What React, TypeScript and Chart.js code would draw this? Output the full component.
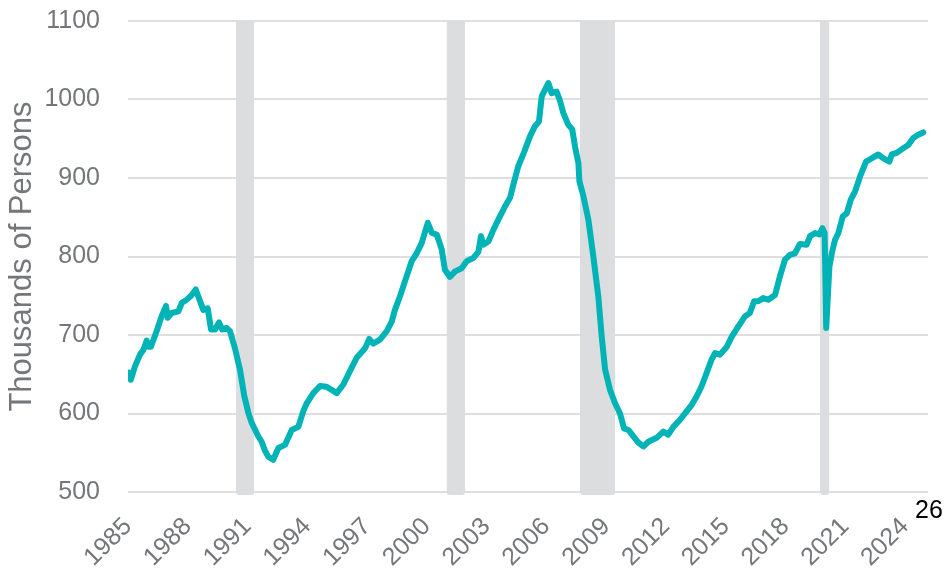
import React, { useEffect, useRef } from 'react';
import { Chart, registerables } from 'chart.js';

Chart.register(...registerables);

// Decimal-year positions of readings taken along the line
const years = [
  1985.05, 1985.14, 1985.35, 1985.6, 1985.77, 1985.94, 1986.02, 1986.15, 1986.44, 1986.69,
  1986.91, 1986.99, 1987.19, 1987.53, 1987.7, 1987.95, 1988.2, 1988.4, 1988.56, 1988.78,
  1989.0, 1989.17, 1989.37, 1989.57, 1989.73, 1989.95, 1990.12, 1990.37, 1990.62, 1990.84,
  1991.04, 1991.21, 1991.54, 1991.71, 1991.87, 1992.04, 1992.29, 1992.55, 1992.88, 1993.22,
  1993.55, 1993.8, 1993.97, 1994.3, 1994.64, 1994.97, 1995.48, 1995.81, 1996.14, 1996.48,
  1996.9, 1997.11, 1997.31, 1997.65, 1997.99, 1998.24, 1998.4, 1998.65, 1998.99, 1999.24,
  1999.49, 1999.74, 2000.05, 2000.25, 2000.5, 2000.75, 2000.91, 2001.16, 2001.42, 2001.75,
  2002.0, 2002.33, 2002.59, 2002.72, 2002.84, 2003.09, 2003.34, 2003.59, 2003.93, 2004.18,
  2004.34, 2004.59, 2004.84, 2005.18, 2005.43, 2005.63, 2005.77, 2005.85, 2006.1, 2006.27,
  2006.52, 2006.69, 2006.85, 2007.1, 2007.3, 2007.44, 2007.61, 2007.66, 2007.86, 2008.11,
  2008.36, 2008.61, 2008.78, 2008.95, 2009.2, 2009.45, 2009.7, 2009.9, 2010.12, 2010.37,
  2010.62, 2010.87, 2011.12, 2011.54, 2011.87, 2012.12, 2012.38, 2012.71, 2013.05, 2013.3,
  2013.55, 2013.8, 2014.05, 2014.3, 2014.47, 2014.72, 2015.06, 2015.31, 2015.64, 2015.98,
  2016.22, 2016.43, 2016.64, 2016.89, 2017.14, 2017.48, 2017.73, 2017.98, 2018.23, 2018.48,
  2018.73, 2019.07, 2019.24, 2019.49, 2019.71, 2019.86, 2019.97, 2020.05, 2020.21, 2020.33,
  2020.49, 2020.66, 2020.88, 2021.08, 2021.28, 2021.5, 2021.75, 2022.05, 2022.33, 2022.66,
  2022.92, 2023.22, 2023.34, 2023.59, 2023.92, 2024.17, 2024.42, 2024.67, 2024.92,
];

// Thousands of persons
const persons = [
  652, 643, 660, 675, 681, 693, 685, 685, 705, 724,
  737, 722, 728, 730, 741, 745, 751, 758, 747, 732,
  734, 707, 707, 716, 707, 709, 705, 683, 656, 622,
  601, 588, 571, 564, 553, 545, 541, 556, 560, 579,
  583, 603, 613, 626, 635, 634, 626, 637, 654, 671,
  683, 695, 689, 694, 705, 717, 732, 749, 775, 794,
  804, 817, 843, 830, 828, 809, 783, 774, 781, 785,
  794, 798, 806, 826, 815, 819, 834, 847, 864, 875,
  891, 915, 930, 953, 966, 972, 1004, 1008, 1021, 1008,
  1010, 998, 983, 968, 962, 940, 919, 896, 877, 847,
  800, 749, 698, 656, 630, 613, 600, 581, 579, 571,
  563, 558, 564, 569, 577, 573, 583, 592, 603, 611,
  622, 635, 652, 669, 677, 675, 685, 698, 711, 724,
  728, 743, 743, 747, 745, 751, 775, 796, 802, 804,
  816, 815, 826, 830, 828, 836, 830, 709, 787, 804,
  821, 830, 851, 855, 872, 883, 902, 921, 925, 930,
  925, 921, 930, 932, 938, 942, 951, 955, 958,
];

const tickYears = [1985, 1988, 1991, 1994, 1997, 2000, 2003, 2006, 2009, 2012, 2015, 2018, 2021, 2024];
const yMin = 500;
const yMax = 1100;
const yStep = 100;
const xMin = 1985;
const xMax = 2025.16;

const recessionStarts = [1990.42, 2001.0, 2007.69, 2019.74];
const recessionEnds = [1991.33, 2001.92, 2009.45, 2020.2];

const yTitle = 'Thousands of Persons';
const cornerLabel = '26';

const FONT = "'Liberation Sans', Arial, Helvetica, sans-serif";
const GRAY = '#747679';
const TEAL = '#00b3b6';

const recessionPlugin = {
  id: 'recessions',
  beforeDatasetsDraw(chart: any) {
    const { ctx, chartArea, scales } = chart;
    const xs = scales.x;
    ctx.save();
    ctx.fillStyle = '#dcdddf';
    for (let i = 0; i < recessionStarts.length; i++) {
      const x0 = xs.getPixelForValue(recessionStarts[i]);
      const x1 = xs.getPixelForValue(recessionEnds[i]);
      const top = chartArea.top;
      const bottom = chartArea.bottom + 3;
      ctx.beginPath();
      if (ctx.roundRect) {
        ctx.roundRect(x0, top, x1 - x0, bottom - top, [0, 0, 3, 3]);
      } else {
        ctx.rect(x0, top, x1 - x0, bottom - top);
      }
      ctx.fill();
    }
    ctx.restore();
  },
  afterDraw(chart: any) {
    const { ctx, chartArea } = chart;
    ctx.save();
    ctx.fillStyle = '#000000';
    ctx.font = `25px ${FONT}`;
    ctx.textAlign = 'left';
    ctx.textBaseline = 'alphabetic';
    ctx.fillText(cornerLabel, chartArea.right - 13, chartArea.bottom + 26);
    ctx.restore();
  },
};

export default function App() {
  const ref = useRef<HTMLCanvasElement | null>(null);

  useEffect(() => {
    document.body.style.margin = '0';
    const canvas = ref.current;
    if (!canvas) return;
    const data = years.map((x, i) => ({ x, y: persons[i] }));
    const chart = new Chart(canvas, {
      type: 'line',
      data: {
        datasets: [
          {
            data,
            borderColor: TEAL,
            borderWidth: 6,
            pointRadius: 0,
            tension: 0,
            borderJoinStyle: 'round',
            borderCapStyle: 'round',
            fill: false,
          },
        ],
      },
      options: {
        animation: false,
        responsive: false,
        maintainAspectRatio: false,
        layout: { padding: { top: 21, right: 17, left: 0, bottom: 0 } },
        plugins: {
          legend: { display: false },
          tooltip: { enabled: false },
        },
        scales: {
          x: {
            type: 'linear',
            min: xMin,
            max: xMax,
            afterBuildTicks: (scale: any) => {
              scale.ticks = tickYears.map((v) => ({ value: v }));
            },
            afterFit: (scale: any) => {
              scale.height = 83;
              scale.paddingLeft = 0;
              scale.paddingRight = 0;
              scale.paddingTop = 0;
              scale.paddingBottom = 0;
            },
            grid: { display: false, drawTicks: false },
            border: { display: false },
            ticks: {
              autoSkip: false,
              minRotation: 45,
              maxRotation: 45,
              padding: 20,
              color: GRAY,
              font: { family: FONT, size: 25 },
              callback: (v: any) => String(v),
            },
          },
          y: {
            min: yMin,
            max: yMax,
            afterFit: (scale: any) => {
              scale.width = 128;
              scale.paddingLeft = 0;
              scale.paddingRight = 0;
              scale.paddingTop = 0;
              scale.paddingBottom = 0;
            },
            ticks: {
              stepSize: yStep,
              padding: 28,
              color: GRAY,
              font: { family: FONT, size: 25 },
              callback: (v: any) => String(v),
            },
            grid: { color: '#dfdfdf', lineWidth: 2, drawTicks: false },
            border: { display: false },
            title: {
              display: true,
              text: yTitle,
              color: GRAY,
              font: { family: FONT, size: 31 },
              padding: { top: 4, bottom: 0 },
            },
          },
        },
      },
      plugins: [recessionPlugin],
    });
    return () => chart.destroy();
  }, []);

  return (
    <div style={{ width: 945, height: 575 }}>
      <canvas ref={ref} width={945} height={575} style={{ display: 'block' }} />
    </div>
  );
}
